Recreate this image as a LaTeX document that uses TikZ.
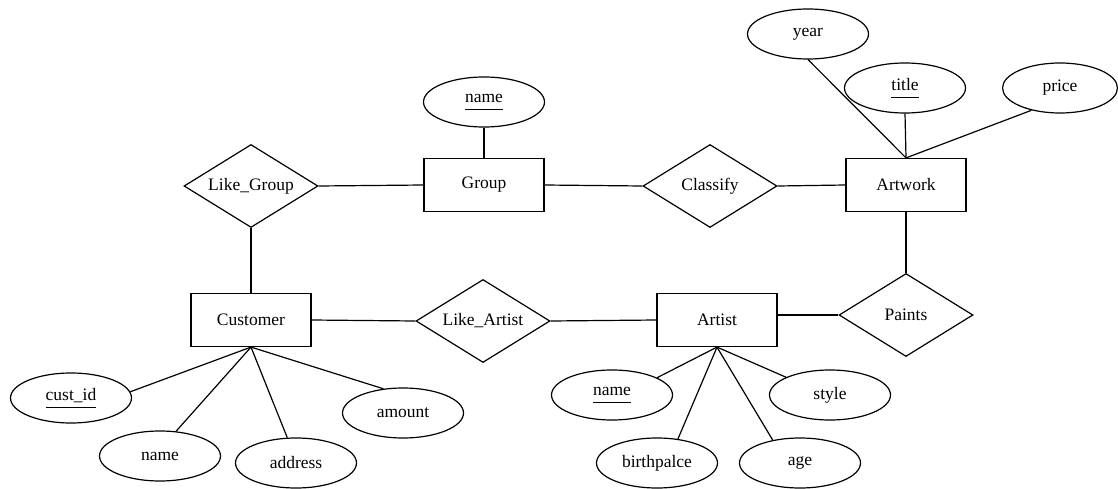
\documentclass[tikz,border=0pt]{standalone}
\usepackage{fontspec}
\setmainfont{Liberation Serif}
\usetikzlibrary{shapes.geometric}
\newcommand{\keyattr}[1]{\underline{\raisebox{0pt}[\height][4.5pt]{#1}}}
\begin{document}
\begin{tikzpicture}[x=1pt,y=-1pt,
  every node/.style={font=\fontsize{17.5}{20}\selectfont},
  entity/.style={draw,line width=1.2pt,rectangle,minimum width=120pt,minimum height=53pt,inner sep=0pt},
  rel/.style={draw,line width=1.2pt,diamond,aspect=1.6,minimum width=134pt,minimum height=83pt,inner sep=0pt},
  attr/.style={draw,line width=1.2pt,ellipse,minimum width=121pt,minimum height=50pt,inner sep=0pt},
  conn/.style={line width=1.2pt}]
\fill[white] (0,0) rectangle (1118,489);
\useasboundingbox (0,0) rectangle (1118,489);
% entities
\node[entity] (group) at (484,185) {Group};
\node[entity] (artwork) at (906,185) {Artwork};
\node[entity] (cust) at (251,320) {Customer};
\node[entity] (artist) at (717,320) {Artist};
% relationships
\node[rel] (likegroup) at (251,186) {Like\_Group};
\node[rel] (classify) at (710,186) {Classify};
\node[rel] (likeartist) at (483,321) {Like\_Artist};
\node[rel] (paints) at (906,315) {Paints};
% attributes
\node[attr] (gname) at (484,102) {\keyattr{name}};
\node[attr] (year) at (808,34) {year};
\node[attr] (title) at (905,88) {\keyattr{title}};
\node[attr,minimum width=115pt] (price) at (1060,88) {price};
\node[attr] (cid) at (71,398) {\keyattr{cust\_id}};
\node[attr] (cname) at (160,456) {name};
\node[attr] (addr) at (296,463) {address};
\node[attr] (amount) at (403,413) {amount};
\node[attr] (aname) at (612,395) {\keyattr{name}};
\node[attr] (style) at (830,395) {style};
\node[attr] (birth) at (657,463) {birthpalce};
\node[attr] (age) at (800,463) {age};
% connectors
\draw[conn] (likegroup.east) -- (group.west);
\draw[conn] (likegroup.south) -- (cust.north);
\draw[conn] (group.east) -- (classify.west);
\draw[conn] (classify.east) -- (artwork.west);
\draw[conn] (cust.east) -- (likeartist.west);
\draw[conn] (likeartist.east) -- (artist.west);
\draw[conn] (artist.east |- paints.west) -- (paints.west);
\draw[conn] (artwork.south) -- (paints.north);
\draw[conn] (gname.south) -- (group.north);
\draw[conn] (year.south) -- (artwork.north);
\draw[conn] (title.south) -- (artwork.north);
\draw[conn] (price.218) -- (artwork.north);
\draw[conn] (cust.south) -- (cid.6);
\draw[conn] (cust.south) -- (cname.57);
\draw[conn] (cust.south) -- (addr.109);
\draw[conn] (cust.south) -- (amount.129);
\draw[conn] (artist.south) -- (aname.21);
\draw[conn] (artist.south) -- (style.158);
\draw[conn] (artist.south) -- (birth.49);
\draw[conn] (artist.south) -- (age.140);
\end{tikzpicture}
\end{document}
